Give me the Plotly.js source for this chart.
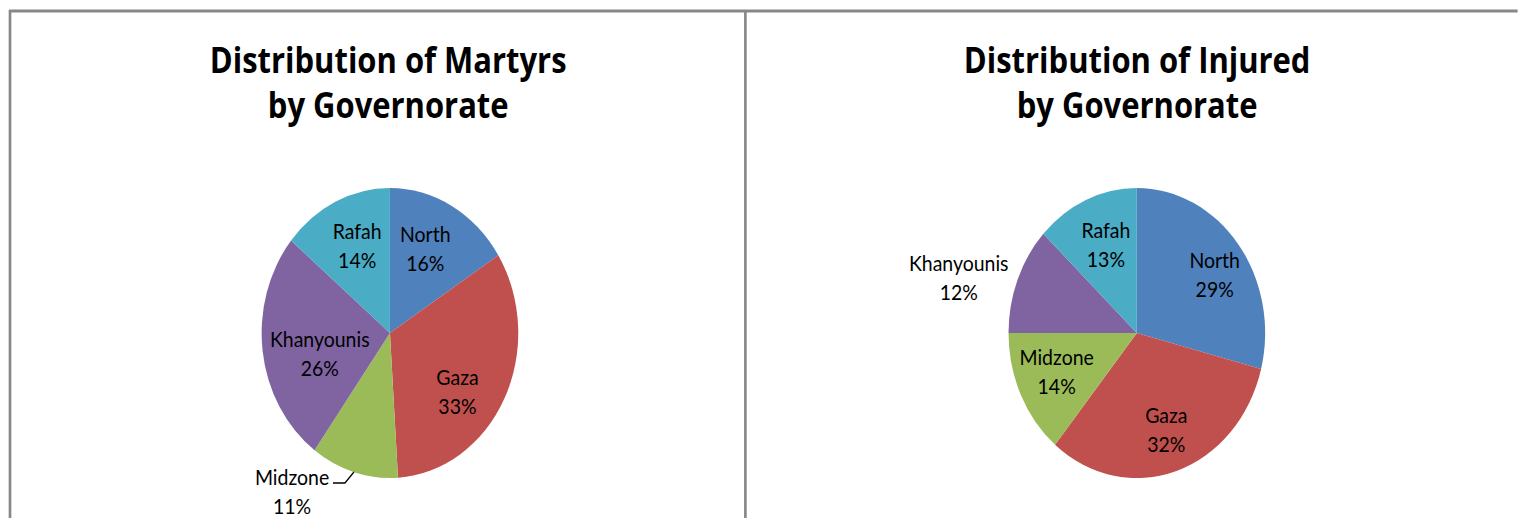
<!DOCTYPE html>
<html>
<head>
<meta charset="utf-8">
<script src="https://cdn.plot.ly/plotly-3.0.1.min.js"></script>
<style>
html,body{margin:0;padding:0;background:#fff;overflow:hidden;}
#wrap{width:1518px;height:518px;overflow:hidden;position:relative;}
#plot{position:absolute;left:0;top:0;height:518px;transform-origin:0 0;}
</style>
</head>
<body>
<div id="wrap"><div id="plot"></div></div>
<script>
const categories = ['North', 'Gaza', 'Midzone', 'Khanyounis', 'Rafah'];
const martyrsPct = [16, 33, 11, 26, 14];
const injuredPct = [29, 32, 14, 12, 13];
const sliceColors = ['#4F81BD', '#C0504D', '#9BBB59', '#8064A2', '#4BACC6'];
const titles = ['Distribution of Martyrs<br>by Governorate', 'Distribution of Injured<br>by Governorate'];

// label placement (final picture pixels), one per category, per chart
const martyrsLabelPos = [[425, 248], [458, 391], [292, 491], [320, 353], [357, 245]];
const injuredLabelPos = [[1215, 274], [1167, 429], [1057, 371], [959, 277], [1106, 244]];

const SX = 0.885;            // horizontal squeeze of the original picture
const H = 518;
const W = 1518 / SX;
const el = document.getElementById('plot');
el.style.width = W + 'px';
el.style.transform = 'scaleX(' + SX + ')';

const px = x => (x / SX) / W;       // final x pixel -> paper
const py = y => 1 - y / H;          // final y pixel -> paper
const R = 145;
function dom(cx, cy) {
  const ux = cx / SX;
  return { x: [(ux - R) / W, (ux + R) / W], y: [py(cy + R), py(cy - R)] };
}

const FONT = 'Lato, "Open Sans", sans-serif';
const TFONT = '"Open Sans", Lato, sans-serif';
const LSIZE = 22;

function pieTrace(vals, domain) {
  return {
    type: 'pie',
    labels: categories,
    values: vals,
    sort: false,
    direction: 'clockwise',
    rotation: 0,
    domain: domain,
    marker: { colors: sliceColors, line: { width: 0 } },
    textinfo: 'none',
    hoverinfo: 'label+value',
    showlegend: false
  };
}

const data = [
  pieTrace(martyrsPct, dom(390, 333)),
  pieTrace(injuredPct, dom(1137, 333))
];

function labelAnns(vals, pos) {
  return categories.map((c, i) => ({
    text: c + '<br>' + vals[i] + '%',
    xref: 'paper', yref: 'paper',
    x: px(pos[i][0]), y: py(pos[i][1]),
    xanchor: 'center', yanchor: 'middle', showarrow: false,
    font: { family: FONT, size: LSIZE, color: '#000' }
  }));
}

const gray = '#878787';
const layout = {
  width: W, height: H,
  margin: { l: 0, r: 0, t: 0, b: 0 },
  paper_bgcolor: '#fff',
  showlegend: false,
  font: { family: FONT, color: '#000' },
  shapes: [
    { type: 'line', xref: 'paper', yref: 'paper', x0: px(9), x1: 1, y0: py(11), y1: py(11), line: { color: gray, width: 2.8 } },
    { type: 'line', xref: 'paper', yref: 'paper', x0: px(10), x1: px(10), y0: py(10), y1: 0, line: { color: gray, width: 3 } },
    { type: 'line', xref: 'paper', yref: 'paper', x0: px(745.5), x1: px(745.5), y0: py(10), y1: 0, line: { color: gray, width: 3 } },
    { type: 'path', xref: 'paper', yref: 'paper',
      path: 'M ' + px(333) + ' ' + py(483) + ' L ' + px(345) + ' ' + py(483) + ' L ' + px(354) + ' ' + py(472),
      line: { color: '#000', width: 1.5 } }
  ],
  annotations: [
    { text: '<b>' + titles[0] + '</b>', xref: 'paper', yref: 'paper', x: px(388.5), y: py(82), xanchor: 'center', yanchor: 'middle', showarrow: false, font: { family: TFONT, size: 35, color: '#000' } },
    { text: '<b>' + titles[1] + '</b>', xref: 'paper', yref: 'paper', x: px(1137.5), y: py(82), xanchor: 'center', yanchor: 'middle', showarrow: false, font: { family: TFONT, size: 35, color: '#000' } }
  ].concat(labelAnns(martyrsPct, martyrsLabelPos), labelAnns(injuredPct, injuredLabelPos))
};

Plotly.newPlot('plot', data, layout, { staticPlot: true, displayModeBar: false });
</script>
</body>
</html>
